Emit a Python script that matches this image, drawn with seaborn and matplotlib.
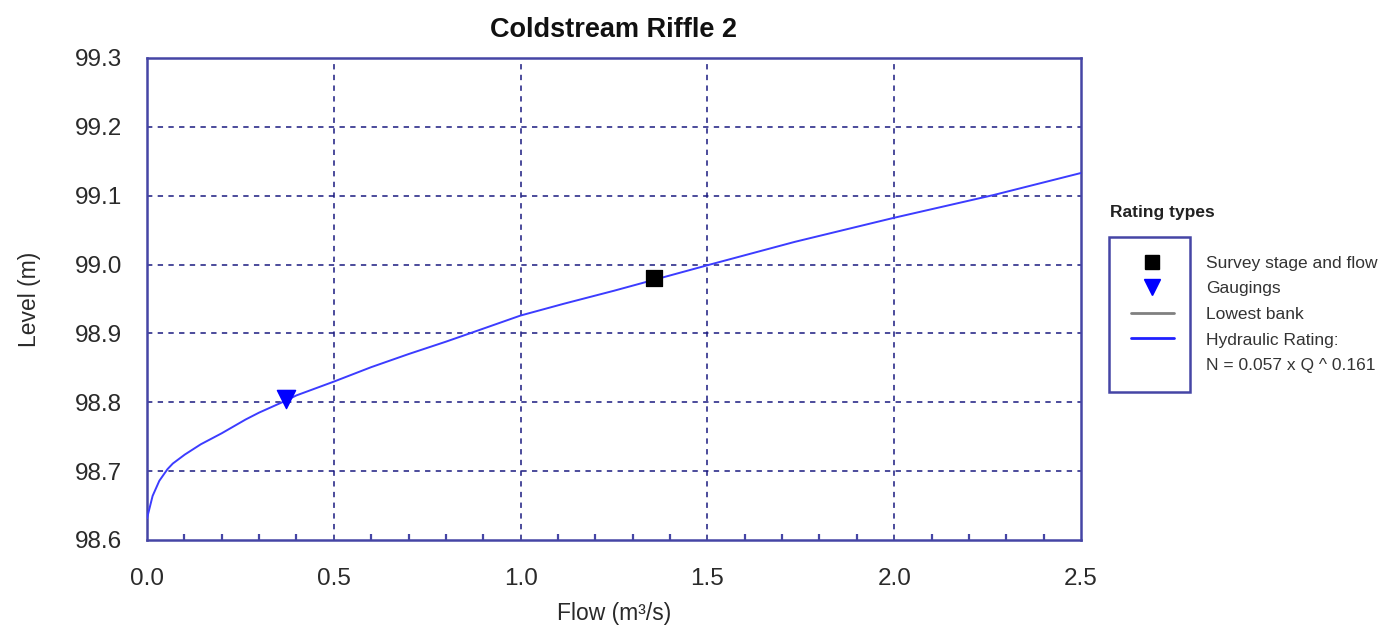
import matplotlib
matplotlib.use("Agg")
import matplotlib.pyplot as plt
from matplotlib.lines import Line2D
from matplotlib.patches import Rectangle
from matplotlib.ticker import MultipleLocator, FormatStrFormatter
import seaborn as sns
import pandas as pd

# ---- data ----
flow_curve = [0.0, 0.0, 0.015, 0.033, 0.055, 0.069, 0.101, 0.144, 0.2, 0.264, 0.3,
              0.37, 0.4, 0.5, 0.6, 0.7, 0.8, 0.874, 1.0, 1.115, 1.25, 1.5,
              1.734, 2.0, 2.266, 2.5]
level_curve = [98.616, 98.647, 98.664, 98.686, 98.703, 98.711, 98.724, 98.739, 98.755,
               98.775, 98.785, 98.802, 98.81, 98.830, 98.851, 98.870, 98.888, 98.902,
               98.926, 98.943, 98.962, 98.999, 99.033, 99.068, 99.101, 99.133]
survey_flow = [1.358]
survey_level = [98.981]
gauging_flow = [0.371]
gauging_level = [98.805]
legend_labels = ["Survey stage and flow", "Gaugings", "Lowest bank",
                 "Hydraulic Rating:", "N = 0.057 x Q ^ 0.161"]

sns.set_style("white")
plt.rcParams['font.family'] = ['Liberation Sans', 'DejaVu Sans']

NAVY = "#4545a5"
GRID = "#1a1a80"
TXT = "#2a2a2a"

fig = plt.figure(figsize=(13.91, 6.37), dpi=100)
ax = fig.add_axes([147/1391, 1-540/637, (1081-147)/1391, (540-58)/637])

curve = pd.DataFrame({"flow": flow_curve, "level": level_curve})
sns.lineplot(data=curve, x="flow", y="level", sort=False, color="#3c3cff",
             linewidth=1.4, ax=ax, zorder=3)
sns.scatterplot(x=gauging_flow, y=gauging_level, marker="v", s=170, color="#0000ff",
                edgecolor="#0000ff", ax=ax, zorder=4)
sns.scatterplot(x=survey_flow, y=survey_level, marker="s", s=130, color="black",
                edgecolor="black", ax=ax, zorder=4)

ax.set_xlim(0, 2.5)
ax.set_ylim(98.6, 99.3)
ax.xaxis.set_major_locator(MultipleLocator(0.5))
ax.xaxis.set_minor_locator(MultipleLocator(0.1))
ax.yaxis.set_major_locator(MultipleLocator(0.1))
ax.xaxis.set_major_formatter(FormatStrFormatter("%.1f"))
ax.yaxis.set_major_formatter(FormatStrFormatter("%.1f"))

ax.grid(True, which="major", color=GRID, linestyle=(0, (3.5, 3.5)), linewidth=1.1)
for s in ax.spines.values():
    s.set_color(NAVY)
    s.set_linewidth(1.8)

ax.tick_params(axis="both", which="major", direction="in", length=10, width=2.2,
               color=NAVY, labelsize=17.5, labelcolor=TXT)
ax.tick_params(axis="x", which="major", pad=20)
ax.tick_params(axis="y", which="major", pad=18)
ax.tick_params(axis="x", which="minor", direction="in", length=4, width=1.6,
               color=NAVY, bottom=True)

ax.set_xlabel("Flow (m³/s)", fontsize=16.5, color=TXT, labelpad=9)
ax.set_ylabel("Level (m)", fontsize=16.5, color=TXT, labelpad=24)
ax.set_title("Coldstream Riffle 2", fontsize=19.5, fontweight="bold", pad=15,
             color="#111111")

# hide grid lines that coincide with the frame
fig.canvas.draw()
x0, x1 = ax.get_xlim()
y0, y1 = ax.get_ylim()
for t in ax.xaxis.get_major_ticks():
    if abs(t.get_loc() - x0) < 1e-6 or abs(t.get_loc() - x1) < 1e-6:
        t.gridline.set_visible(False)
for t in ax.yaxis.get_major_ticks():
    if abs(t.get_loc() - y0) < 1e-6 or abs(t.get_loc() - y1) < 1e-6:
        t.gridline.set_visible(False)

# legend
handles = [
    Line2D([], [], marker="s", color="black", linestyle="none", markersize=10),
    Line2D([], [], marker="v", color="#0000ff", linestyle="none", markersize=11),
    Line2D([], [], color="#808080", linewidth=2),
    Line2D([], [], color="#2020ff", linewidth=2),
    Line2D([], [], color="none"),
]
leg = fig.legend(handles, legend_labels, loc="upper left",
                 bbox_to_anchor=(1122/1391, 1-247/637), frameon=False,
                 fontsize=12.5, handlelength=2.5, handletextpad=1.85,
                 labelspacing=0.6, borderpad=0)
for t in leg.get_texts():
    t.set_color("#333333")

fig.patches.append(Rectangle((1109/1391, 1-392/637), 81/1391, 155/637,
                             transform=fig.transFigure, fill=False,
                             edgecolor=NAVY, linewidth=1.8))
fig.text(1110/1391, 1-212/637, "Rating types", fontsize=12.5, fontweight="bold",
         va="center", ha="left", color="#222222")

fig.savefig("out.png", dpi=100)
